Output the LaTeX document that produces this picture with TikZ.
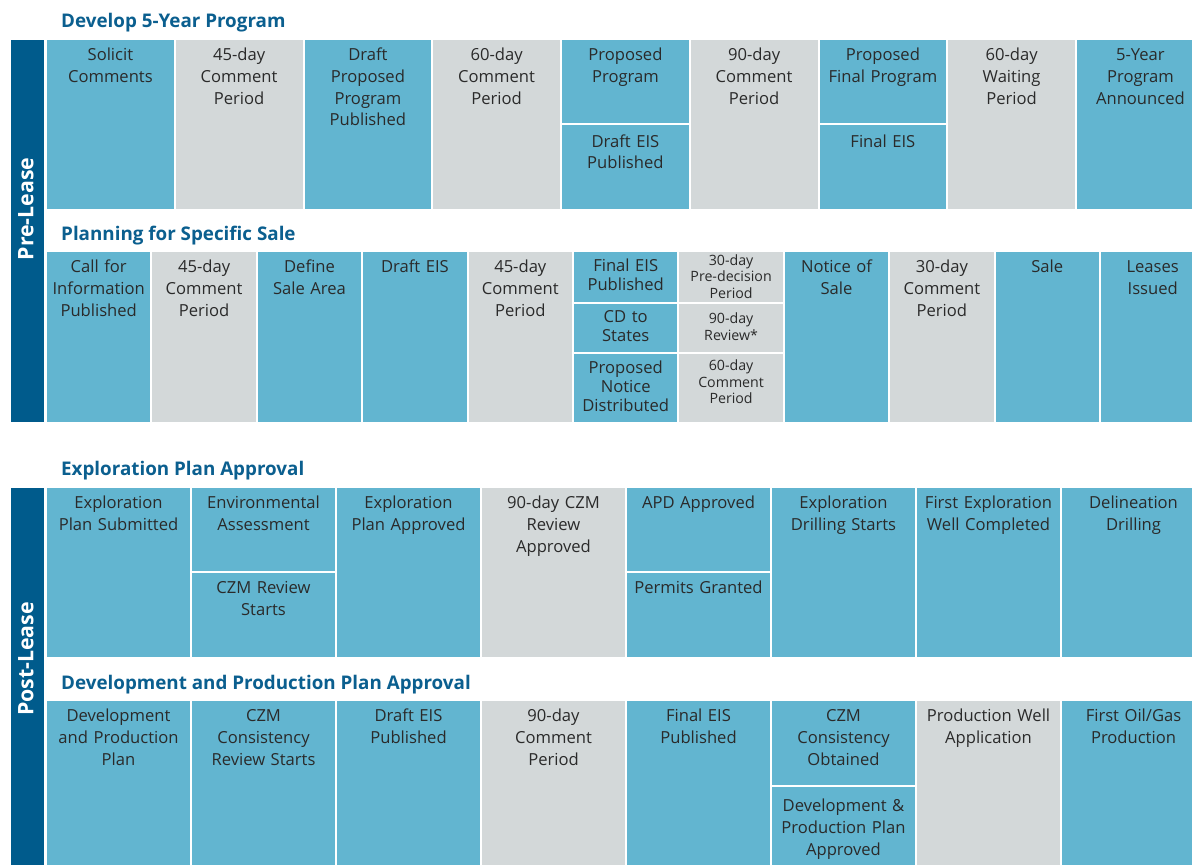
\documentclass[tikz,border=0pt]{standalone}
\usepackage{fontspec}
\setmainfont{Open Sans}
\definecolor{leaseblue}{HTML}{005B8C}
\definecolor{stepblue}{HTML}{62B5D0}
\definecolor{waitgrey}{HTML}{D3D8D9}
\definecolor{titleblue}{HTML}{0B5F8F}
\definecolor{celltext}{HTML}{2A2A2A}
\tikzset{
  act/.style={fill=stepblue},
  wait/.style={fill=waitgrey},
  cell/.style={anchor=north, yshift=15.19pt, text width=140pt, align=center,
    inner sep=0pt, text=celltext, execute at begin node=\strut,
    font=\fontsize{16.6}{21.7}\selectfont},
  tight cell/.style={cell, yshift=-1.89pt, font=\fontsize{16.6}{19}\selectfont},
  small cell/.style={cell, yshift=-3.64pt, font=\fontsize{14.2}{16.5}\selectfont},
  phase/.style={anchor=base west, inner sep=0pt, text=titleblue,
    font=\fontsize{18.8}{22}\selectfont\bfseries},
  stage/.style={rotate=90, text=white, inner sep=0pt,
    font=\fontsize{21.3}{24}\selectfont\bfseries}
}
\begin{document}
\begin{tikzpicture}[x=1pt, y=-1pt]
\useasboundingbox (0,0) rectangle (1192,865);
\clip (0,0) rectangle (1192,865);
\fill[white] (0,0) rectangle (1192,865);

% Side bars
\fill[leaseblue] (11,40) rectangle (44,422);
\node[stage] (pre) at (26,209) {Pre-Lease};
\fill[leaseblue] (11,488) rectangle (44,866);
\node[stage] (post) at (26,659) {Post-Lease};

% Develop 5-Year Program
\node[phase] (develop) at (61,27.3) {Develop 5-Year Program};
\fill[act] (47,40) rectangle (173.75,209);
\node[cell] (solicit) at (110.4,60.5) {Solicit\\Comments};
\fill[wait] (175.75,40) rectangle (302.5,209);
\node[cell] (dev45) at (239.1,60.5) {45-day\\Comment\\Period};
\fill[act] (304.5,40) rectangle (431.25,209);
\node[cell] (dpp) at (367.9,60.5) {Draft\\Proposed\\Program\\Published};
\fill[wait] (433.25,40) rectangle (560,209);
\node[cell] (dev60) at (496.6,60.5) {60-day\\Comment\\Period};
\fill[act] (562,40) rectangle (688.75,123);
\node[cell] (pp) at (625.4,60.5) {Proposed\\Program};
\fill[act] (562,125) rectangle (688.75,209);
\node[cell] (deis) at (625.4,147) {Draft EIS\\Published};
\fill[wait] (690.75,40) rectangle (817.5,209);
\node[cell] (dev90) at (754.1,60.5) {90-day\\Comment\\Period};
\fill[act] (819.5,40) rectangle (946.25,123);
\node[cell] (pfp) at (882.9,60.5) {Proposed\\Final Program};
\fill[act] (819.5,125) rectangle (946.25,209);
\node[cell] (feis) at (882.9,147) {Final EIS};
\fill[wait] (948.25,40) rectangle (1075,209);
\node[cell] (waiting) at (1011.6,60.5) {60-day\\Waiting\\Period};
\fill[act] (1077,40) rectangle (1203.75,209);
\node[cell] (announced) at (1140.4,60.5) {5-Year\\Program\\Announced};

% Planning for Specific Sale
\node[phase] (planning) at (61,240.7) {Planning for Specific Sale};
\fill[act] (47,252) rectangle (150.4,422);
\node[cell] (call) at (98.7,272.5) {Call for\\Information\\Published};
\fill[wait] (152.4,252) rectangle (255.8,422);
\node[cell] (sale45a) at (204.1,272.5) {45-day\\Comment\\Period};
\fill[act] (257.8,252) rectangle (361.2,422);
\node[cell] (area) at (309.5,272.5) {Define\\Sale Area};
\fill[act] (363.2,252) rectangle (466.6,422);
\node[cell] (saledeis) at (414.9,272.5) {Draft EIS};
\fill[wait] (468.6,252) rectangle (572,422);
\node[cell] (sale45b) at (520.3,272.5) {45-day\\Comment\\Period};
\fill[act] (574,252) rectangle (677.4,302);
\node[tight cell] (salefeis) at (625.7,271.7) {Final EIS\\Published};
\fill[act] (574,304) rectangle (677.4,352);
\node[tight cell] (cd) at (625.7,322.7) {CD to\\States};
\fill[act] (574,354) rectangle (677.4,422);
\node[tight cell] (pnd) at (625.7,373.3) {Proposed\\Notice\\Distributed};
\fill[wait] (679.4,252) rectangle (782.8,302);
\node[small cell] (predecision) at (731.1,265) {30-day\\Pre-decision\\Period};
\fill[wait] (679.4,304) rectangle (782.8,352);
\node[small cell] (review) at (731.1,323.3) {90-day\\Review*};
\fill[wait] (679.4,354) rectangle (782.8,422);
\node[small cell] (sale60) at (731.1,370.7) {60-day\\Comment\\Period};
\fill[act] (784.8,252) rectangle (888.2,422);
\node[cell] (notice) at (836.5,272.5) {Notice of\\Sale};
\fill[wait] (890.2,252) rectangle (993.6,422);
\node[cell] (sale30) at (941.9,272.5) {30-day\\Comment\\Period};
\fill[act] (995.6,252) rectangle (1099,422);
\node[cell] (sale) at (1047.3,272.5) {Sale};
\fill[act] (1101,252) rectangle (1204.4,422);
\node[cell] (leases) at (1152.7,272.5) {Leases\\Issued};

% Exploration Plan Approval
\node[phase] (exploration) at (61,475) {Exploration Plan Approval};
\fill[act] (47,488) rectangle (190,657);
\node[cell] (eps) at (118.5,508.5) {Exploration\\Plan Submitted};
\fill[act] (192,488) rectangle (335,571);
\node[cell] (ea) at (263.5,508.5) {Environmental\\Assessment};
\fill[act] (192,573) rectangle (335,657);
\node[cell] (czmstart) at (263.5,593.5) {CZM Review\\Starts};
\fill[act] (337,488) rectangle (480,657);
\node[cell] (epa) at (408.5,508.5) {Exploration\\Plan Approved};
\fill[wait] (482,488) rectangle (625,657);
\node[cell] (czm90) at (553.5,508.5) {90-day CZM\\Review\\Approved};
\fill[act] (627,488) rectangle (770,571);
\node[cell] (apd) at (698.5,508.5) {APD Approved};
\fill[act] (627,573) rectangle (770,657);
\node[cell] (permits) at (698.5,593.5) {Permits Granted};
\fill[act] (772,488) rectangle (915,657);
\node[cell] (drilling) at (843.5,508.5) {Exploration\\Drilling Starts};
\fill[act] (917,488) rectangle (1060,657);
\node[cell] (firstwell) at (988.5,508.5) {First Exploration\\Well Completed};
\fill[act] (1062,488) rectangle (1205,657);
\node[cell] (delineation) at (1133.5,508.5) {Delineation\\Drilling};

% Development and Production Plan Approval
\node[phase] (development) at (61,689) {Development and Production Plan Approval};
\fill[act] (47,701) rectangle (190,866);
\node[cell] (dpplan) at (118.5,721.7) {Development\\and Production\\Plan};
\fill[act] (192,701) rectangle (335,866);
\node[cell] (czmcons) at (263.5,721.7) {CZM\\Consistency\\Review Starts};
\fill[act] (337,701) rectangle (480,866);
\node[cell] (proddeis) at (408.5,721.7) {Draft EIS\\Published};
\fill[wait] (482,701) rectangle (625,866);
\node[cell] (prod90) at (553.5,721.7) {90-day\\Comment\\Period};
\fill[act] (627,701) rectangle (770,866);
\node[cell] (prodfeis) at (698.5,721.7) {Final EIS\\Published};
\fill[act] (772,701) rectangle (915,785);
\node[cell] (obtained) at (843.5,721.7) {CZM\\Consistency\\Obtained};
\fill[act] (772,787) rectangle (915,866);
\node[cell] (approved) at (843.5,811.7) {Development \&\\Production Plan\\Approved};
\fill[wait] (917,701) rectangle (1060,866);
\node[cell] (wellapp) at (988.5,721.7) {Production Well\\Application};
\fill[act] (1062,701) rectangle (1205,866);
\node[cell] (firstoil) at (1133.5,721.7) {First Oil/Gas\\Production};
\end{tikzpicture}
\end{document}
